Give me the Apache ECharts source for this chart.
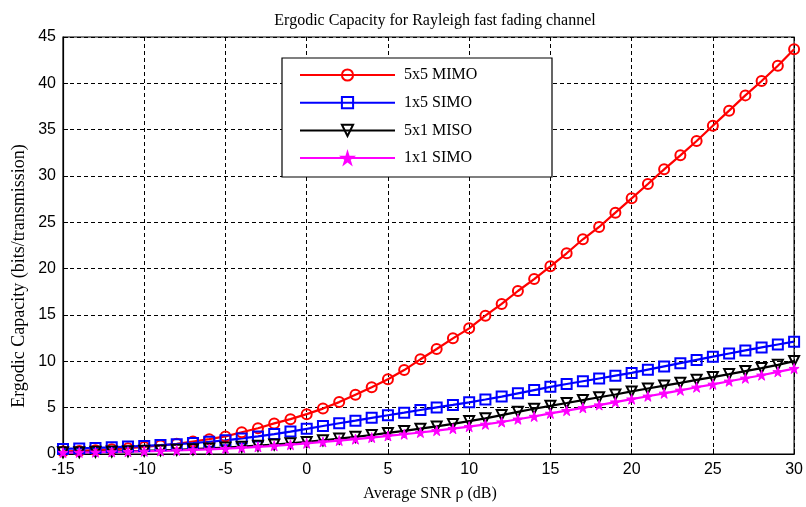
<!DOCTYPE html>
<html>
<head>
<meta charset="utf-8">
<script src="https://cdn.jsdelivr.net/npm/echarts@6/dist/echarts.min.js"></script>
<style>
html,body{margin:0;padding:0;background:#fff;}
#chart{width:806px;height:507px;}
</style>
</head>
<body>
<div id="chart"></div>
<script>
// Data
var snrDb = [-15,-14,-13,-12,-11,-10,-9,-8,-7,-6,-5,-4,-3,-2,-1,0,1,2,3,4,5,6,7,8,9,10,11,12,13,14,15,16,17,18,19,20,21,22,23,24,25,26,27,28,29,30];
var mimo5x5 = [0.27,0.33,0.41,0.50,0.62,0.76,0.92,1.10,1.35,1.60,1.90,2.35,2.78,3.30,3.76,4.30,4.90,5.60,6.40,7.20,8.06,9.06,10.22,11.33,12.48,13.56,14.93,16.19,17.59,18.88,20.25,21.66,23.17,24.50,26.04,27.59,29.14,30.72,32.23,33.78,35.43,37.05,38.70,40.25,41.90,43.67];
var simo1x5 = [0.55,0.60,0.66,0.72,0.80,0.87,0.96,1.06,1.18,1.32,1.48,1.68,1.90,2.15,2.42,2.72,3.02,3.32,3.60,3.90,4.18,4.46,4.75,5.03,5.30,5.58,5.88,6.20,6.55,6.90,7.25,7.55,7.85,8.15,8.45,8.75,9.10,9.45,9.80,10.15,10.50,10.85,11.18,11.50,11.82,12.12];
var miso5x1 = [0.18,0.20,0.23,0.26,0.30,0.34,0.39,0.45,0.52,0.60,0.69,0.79,0.90,1.02,1.15,1.30,1.48,1.66,1.85,2.05,2.27,2.49,2.73,2.98,3.25,3.55,3.85,4.20,4.55,4.88,5.20,5.50,5.82,6.12,6.42,6.75,7.07,7.38,7.68,8.00,8.30,8.62,8.95,9.27,9.62,10.03];
var siso1x1 = [0.15,0.17,0.19,0.22,0.25,0.29,0.33,0.38,0.44,0.50,0.58,0.67,0.77,0.88,1.00,1.15,1.30,1.45,1.60,1.77,1.95,2.13,2.32,2.52,2.73,2.95,3.20,3.45,3.75,4.05,4.38,4.68,4.98,5.28,5.60,5.92,6.23,6.55,6.87,7.20,7.52,7.85,8.17,8.50,8.87,9.22];
var seriesNames = ['5x5 MIMO','1x5 SIMO','5x1 MISO','1x1 SIMO'];
var xTicks = [-15,-10,-5,0,5,10,15,20,25,30];
var yTicks = [0,5,10,15,20,25,30,35,40,45];

function pairs(ys){ return snrDb.map(function(x,i){ return [x, ys[i]]; }); }

var starPath = 'path://M50,0 L61,35 L98,35 L68,57 L79,91 L50,70 L21,91 L32,57 L2,35 L39,35 Z';

function mk(name, ys, color, symbol, opts){
  var s = {
    name: name, type: 'line', data: pairs(ys),
    symbol: symbol, symbolSize: 10, showAllSymbol: true,
    lineStyle: {color: color, width: 2.2},
    itemStyle: {color: 'rgba(0,0,0,0)', borderColor: color, borderWidth: 2},
    emphasis: {disabled: true}
  };
  if (opts) for (var k in opts) s[k] = opts[k];
  return s;
}

var chart = echarts.init(document.getElementById('chart'), null, {renderer: 'canvas'});
var gridLine = {show: true, lineStyle: {color: '#000', width: 1, type: [4,3]}};
chart.setOption({
  animation: false,
  backgroundColor: '#fff',
  title: {
    text: 'Ergodic Capacity for Rayleigh fast fading channel',
    left: 430, top: 8, textAlign: 'center',
    textStyle: {fontFamily: 'Liberation Serif', fontSize: 16, fontWeight: 'normal', color: '#000'}
  },
  grid: {left: 63, right: 7, top: 37, bottom: 53, show: true, borderColor: '#000', borderWidth: 1.2, backgroundColor: 'transparent'},
  xAxis: {
    type: 'value', min: xTicks[0], max: xTicks[xTicks.length-1], interval: 5,
    axisLine: {show: true, onZero: false, lineStyle: {color: '#000', width: 1.2}},
    axisTick: {show: true, inside: true, length: 5, lineStyle: {color: '#000'}},
    axisLabel: {color: '#000', fontFamily: 'Liberation Sans', fontSize: 16, margin: 8},
    splitLine: gridLine
  },
  yAxis: {
    type: 'value', min: yTicks[0], max: yTicks[yTicks.length-1], interval: 5,
    axisLine: {show: true, onZero: false, lineStyle: {color: '#000', width: 1.2}},
    axisTick: {show: true, inside: true, length: 5, lineStyle: {color: '#000'}},
    axisLabel: {color: '#000', fontFamily: 'Liberation Sans', fontSize: 16, margin: 7},
    splitLine: gridLine
  },
  legend: {
    orient: 'vertical', left: 299, top: 67, padding: 0,
    itemWidth: 95, itemHeight: 14, itemGap: 11.7,
    data: seriesNames,
    textStyle: {fontFamily: 'Liberation Serif', fontSize: 16, color: '#000', padding: [0,0,0,4]},
    z: 10
  },
  graphic: [
    {type: 'rect', z: 5, shape: {x: 282, y: 58, width: 270, height: 119}, style: {fill: '#fff', stroke: '#000', lineWidth: 1.2}},
    {type: 'text', x: 19, y: 276, rotation: Math.PI/2, z: 10,
      style: {text: 'Ergodic Capacity (bits/transmission)', fill: '#000', font: '18px "Liberation Serif"', textAlign: 'center', textVerticalAlign: 'middle'}},
    {type: 'text', x: 430, y: 494, z: 10,
      style: {text: 'Average SNR \u03C1 (dB)', fill: '#000', font: '16px "Liberation Serif"', textAlign: 'center', textVerticalAlign: 'middle'}}
  ],
  series: [
    mk(seriesNames[0], mimo5x5, '#ff0000', 'circle'),
    mk(seriesNames[1], simo1x5, '#0000ff', 'rect'),
    mk(seriesNames[2], miso5x1, '#000000', 'triangle', {symbolRotate: 180}),
    mk(seriesNames[3], siso1x1, '#ff00ff', starPath, {itemStyle: {color: '#ff00ff', borderColor: '#ff00ff', borderWidth: 1}})
  ]
});
</script>
</body>
</html>
